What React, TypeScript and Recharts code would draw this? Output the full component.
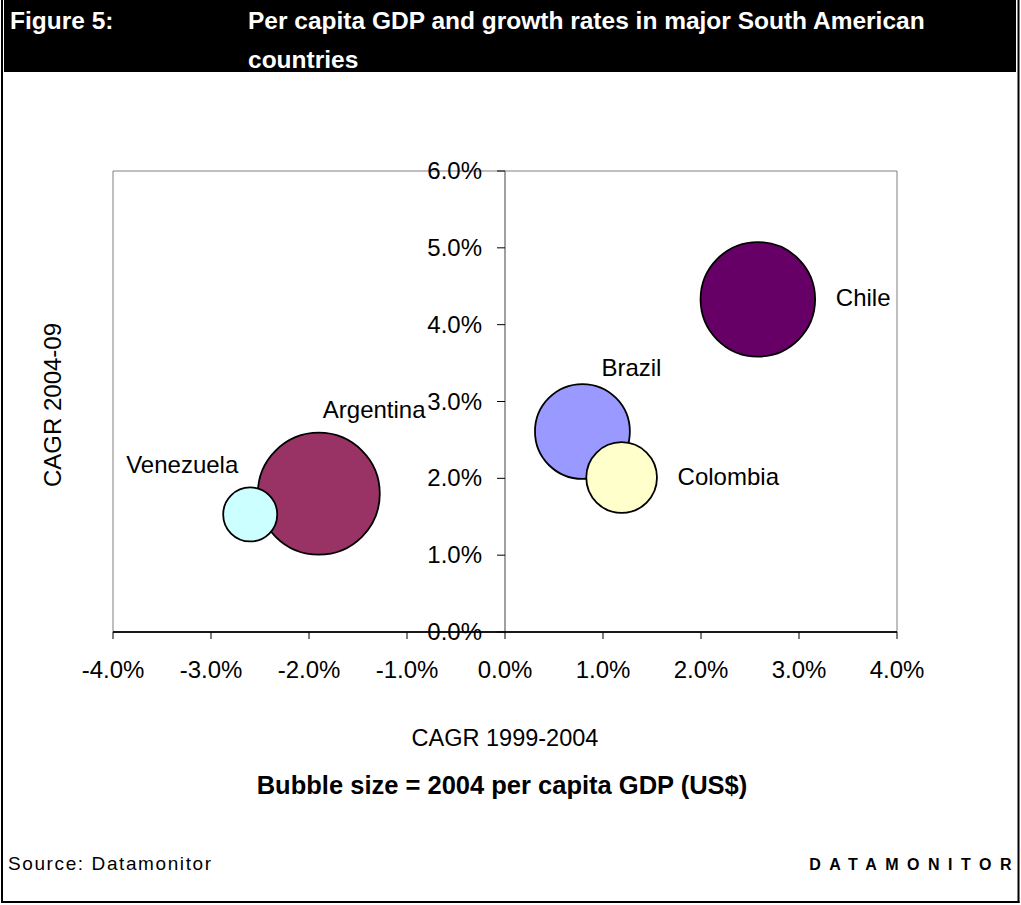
import React from "react";
import { ScatterChart, Scatter, XAxis, YAxis, ZAxis, ReferenceLine, ReferenceArea, Cell } from "recharts";

// per capita GDP and growth
const countries = ["Argentina", "Brazil", "Chile", "Colombia", "Venezuela"];
const cagr1999to2004 = [-0.019, 0.0079, 0.0258, 0.0119, -0.026];
const cagr2004to09 = [0.018, 0.0261, 0.0433, 0.0201, 0.0153];
const gdp2004 = [3720, 2250, 3280, 1250, 730];
const bubbleColors = ["#993366", "#9999FF", "#660066", "#FFFFCC", "#CCFFFF"];

const xTicks = [-0.04, -0.03, -0.02, -0.01, 0, 0.01, 0.02, 0.03, 0.04];
const yTicks = [0, 0.01, 0.02, 0.03, 0.04, 0.05, 0.06];

const points = countries.map((name, i) => ({
  name,
  x: cagr1999to2004[i],
  y: cagr2004to09[i],
  z: gdp2004[i],
}));

// where each data label sits relative to its bubble centre
const labelOffset: Record<string, [number, number]> = {
  Argentina: [4, -76],
  Brazil: [19, -55],
  Chile: [78, 7],
  Colombia: [56, 7],
  Venezuela: [-124, -41],
};

const W = 1021;
const H = 905;
const PLOT_LEFT = 113;
const PLOT_RIGHT = 897;
const PLOT_TOP = 171;
const PLOT_BOTTOM = 632;
const X_AXIS_H = 60;
const Y_AXIS_W = 10;
const AXIS_X = (PLOT_LEFT + PLOT_RIGHT) / 2;
const FONT = "'Liberation Sans', Arial, Helvetica, sans-serif";

const pct = (v: number) => `${(v * 100).toFixed(1)}%`;

// y axis sits at x = 0, so its ticks are drawn at the middle of the plot
const YTick = (props: any) => {
  const { y, payload } = props;
  return (
    <g>
      <line x1={AXIS_X - 8} x2={AXIS_X} y1={y} y2={y} stroke="#000" />
      <text x={AXIS_X - 23} y={y + 8} textAnchor="end" fontSize={24} fontFamily={FONT} fill="#000">
        {pct(payload.value)}
      </text>
    </g>
  );
};

const Bubble = (props: any) => {
  const { cx, cy, width, fill, payload } = props;
  const r = width / 2;
  const [dx, dy] = labelOffset[payload.name] || [r + 10, 7];
  return (
    <g>
      <circle cx={cx} cy={cy} r={r} fill={fill} stroke="#000" strokeWidth={1.8} />
      <text x={cx + dx} y={cy + dy} fontSize={24} fontFamily={FONT} fill="#000">
        {payload.name}
      </text>
    </g>
  );
};

export default function App() {
  return (
    <div style={{ position: "absolute", left: 0, top: 0, width: W, height: H, background: "#fff", fontFamily: FONT }}>
      <div style={{ position: "absolute", left: 0, top: 0 }}>
        <ScatterChart
          width={W}
          height={H}
          margin={{ top: PLOT_TOP, right: W - PLOT_RIGHT, bottom: H - PLOT_BOTTOM - X_AXIS_H, left: PLOT_LEFT - Y_AXIS_W }}
        >
          <XAxis
            type="number"
            dataKey="x"
            domain={[-0.04, 0.04]}
            ticks={xTicks}
            tickFormatter={pct}
            height={X_AXIS_H}
            axisLine={{ stroke: "#000" }}
            tickLine={{ stroke: "#000" }}
            tickSize={7}
            tickMargin={22}
            tick={{ fontSize: 24, fill: "#000", fontFamily: FONT }}
            interval={0}
          />
          <YAxis
            type="number"
            dataKey="y"
            domain={[0, 0.06]}
            ticks={yTicks}
            width={Y_AXIS_W}
            axisLine={false}
            tickLine={false}
            tick={(p: any) => <YTick {...p} />}
            interval={0}
          />
          <ZAxis type="number" dataKey="z" domain={[0, 4000]} range={[0, 4000 * Math.PI]} />
          <ReferenceArea x1={-0.04} x2={0.04} y1={0} y2={0.06} fill="none" stroke="#808080" strokeWidth={1} />
          <ReferenceLine x={0} stroke="#808080" strokeWidth={1.5} />
          <ReferenceLine y={0} stroke="#000" strokeWidth={1.5} />
          <Scatter data={points} shape={<Bubble />} isAnimationActive={false}>
            {points.map((p, i) => (
              <Cell key={p.name} fill={bubbleColors[i]} />
            ))}
          </Scatter>
        </ScatterChart>
      </div>

      <svg width={W} height={H} style={{ position: "absolute", left: 0, top: 0, pointerEvents: "none" }}>
        {/* frame and header */}
        <rect x={4} y={0} width={1012} height={72} fill="#000" />
        <line x1={2} y1={0} x2={2} y2={903} stroke="#000" strokeWidth={2} />
        <line x1={1018.5} y1={0} x2={1018.5} y2={903} stroke="#000" strokeWidth={2} />
        <line x1={1} y1={902} x2={1019.5} y2={902} stroke="#000" strokeWidth={2} />
        <g fontFamily={FONT} fontWeight="bold" fontSize={24.5} fill="#fff">
          <text x={10} y={29}>Figure 5:</text>
          <text x={248} y={29}>Per capita GDP and growth rates in major South American</text>
          <text x={248} y={68}>countries</text>
        </g>

        {/* axis titles */}
        <text x={505} y={746} textAnchor="middle" fontFamily={FONT} fontSize={23.5} fill="#000">
          CAGR 1999-2004
        </text>
        <text
          x={61}
          y={405}
          textAnchor="middle"
          fontFamily={FONT}
          fontSize={24}
          fill="#000"
          transform="rotate(-90 61 405)"
        >
          CAGR 2004-09
        </text>
        <text x={502} y={794} textAnchor="middle" fontFamily={FONT} fontSize={25.5} fontWeight="bold" fill="#000">
          Bubble size = 2004 per capita GDP (US$)
        </text>

        {/* footer */}
        <text x={8} y={870} fontFamily={FONT} fontSize={19} letterSpacing={1.6} fill="#000">
          Source: Datamonitor
        </text>
        <text x={1020} y={870} textAnchor="end" fontFamily={FONT} fontSize={16} fontWeight="bold" letterSpacing={8.5} fill="#000">
          DATAMONITOR
        </text>
      </svg>
    </div>
  );
}
